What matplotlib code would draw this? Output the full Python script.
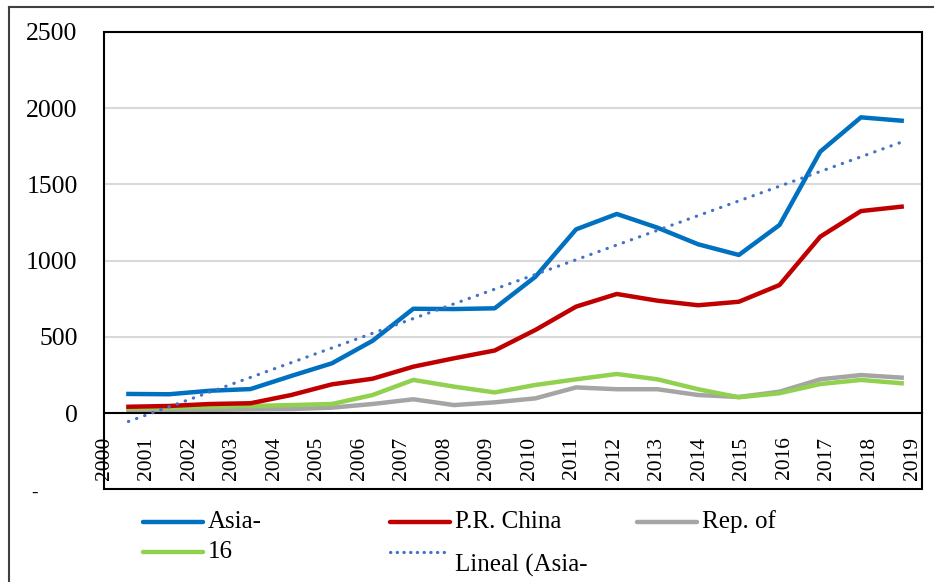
import numpy as np
import matplotlib
matplotlib.use("Agg")
import matplotlib.pyplot as plt
from matplotlib.lines import Line2D
from matplotlib.patches import Rectangle

years = [str(y) for y in range(2000, 2020)]

asia = [125, 123, 146, 157, 243, 326, 474, 684, 682, 687,
        894, 1205, 1306, 1216, 1107, 1037, 1234, 1715, 1940, 1918]
china = [41, 46, 59, 64, 118, 188, 225, 304, 359, 410,
         545, 698, 781, 737, 707, 730, 840, 1157, 1325, 1354]
korea = [9, 13, 20, 24, 26, 35, 59, 90, 52, 70,
         96, 168, 156, 156, 118, 105, 140, 221, 249, 232]
other = [31, 35, 41, 46, 52, 59, 118, 217, 173, 135,
         184, 221, 256, 221, 156, 103, 130, 190, 217, 195]

labels = ["Asia-", "P.R. China", "Rep. of", "16", "Lineal (Asia-"]
colors = ["#0070C0", "#C00000", "#A5A5A5", "#92D050", "#4472C4"]

W, H = 935, 582
fig = plt.figure(figsize=(W / 100, H / 100), dpi=100)


def fx(px):
    return px / W


def fy(py):
    return 1 - py / H


# plot area: x 104..922, value 0 at y=413, 2500 at y=32
ax = fig.add_axes([fx(104), fy(413), (922 - 104) / W, (413 - 32) / H])
x = np.arange(len(years))

ax.plot(x, asia, color=colors[0], lw=3.2, solid_joinstyle="round", zorder=4)
ax.plot(x, china, color=colors[1], lw=3.2, solid_joinstyle="round", zorder=4)
ax.plot(x, korea, color=colors[2], lw=3.2, solid_joinstyle="round", zorder=3)
ax.plot(x, other, color=colors[3], lw=3.2, solid_joinstyle="round", zorder=3)

# linear trendline of Asia series (dips below zero, so no clipping)
k, b = np.polyfit(x, asia, 1)
ax.plot(x, k * x + b, color=colors[4], lw=2.3, clip_on=False,
        linestyle=(0, (0.1, 2.6)), dash_capstyle="round", zorder=5)

ax.set_xlim(-0.5, len(years) - 0.5)
ax.set_ylim(0, 2500)
ax.set_yticks(range(0, 2501, 500))
ax.grid(axis="y", color="#D9D9D9", lw=1.5)
ax.set_axisbelow(True)

for s in ["top", "right", "left"]:
    ax.spines[s].set_visible(False)
ax.spines["bottom"].set_color("black")
ax.spines["bottom"].set_linewidth(1.5)
ax.spines["bottom"].set_zorder(4.5)

# category labels are spread a bit wider than the data in the original
ax.set_xticks(np.arange(len(years)) * 1.045 - 0.6)
ax.set_xticklabels(years, rotation=90, fontsize=15.5,
                   family="Liberation Serif")
ax.tick_params(axis="x", length=0, pad=17)
ax.tick_params(axis="y", length=0, pad=19, labelsize=18.5)
for t in ax.get_yticklabels():
    t.set_family("Liberation Serif")

# plot-area border extending below the zero line
fig.patches.append(Rectangle((fx(104), fy(489)), (922 - 104) / W, (489 - 32) / H,
                             transform=fig.transFigure, fill=False,
                             edgecolor="black", lw=1.5, zorder=10))

# outer chart border (left and top only visible)
fig.lines.append(Line2D([fx(9), fx(9)], [fy(7), 0], transform=fig.transFigure,
                        color="#404040", lw=1.5))
fig.lines.append(Line2D([fx(9), fx(933)], [fy(7), fy(7)], transform=fig.transFigure,
                        color="#404040", lw=1.5))

fig.text(fx(35), fy(493), "-", fontsize=14, family="Liberation Serif",
         ha="center", va="center")

# legend
entries = [
    (143, 522, labels[0], colors[0], "-"),
    (390, 522, labels[1], colors[1], "-"),
    (637, 522, labels[2], colors[2], "-"),
    (143, 552, labels[3], colors[3], "-"),
    (390, 552, labels[4], colors[4], ":"),
]
for px, py, lab, col, ls in entries:
    if ls == ":":
        ln = Line2D([fx(px), fx(px + 60)], [fy(py), fy(py)], transform=fig.transFigure,
                    color=col, lw=2.3, linestyle=(0, (0.1, 2.0)),
                    dash_capstyle="round")
        ty = py + 13
    else:
        ln = Line2D([fx(px), fx(px + 60)], [fy(py), fy(py)], transform=fig.transFigure,
                    color=col, lw=3.2, solid_capstyle="round")
        ty = py
    fig.lines.append(ln)
    fig.text(fx(px + 65), fy(ty), lab, fontsize=18, family="Liberation Serif",
             ha="left", va="center")

fig.savefig("out.png", dpi=100)
